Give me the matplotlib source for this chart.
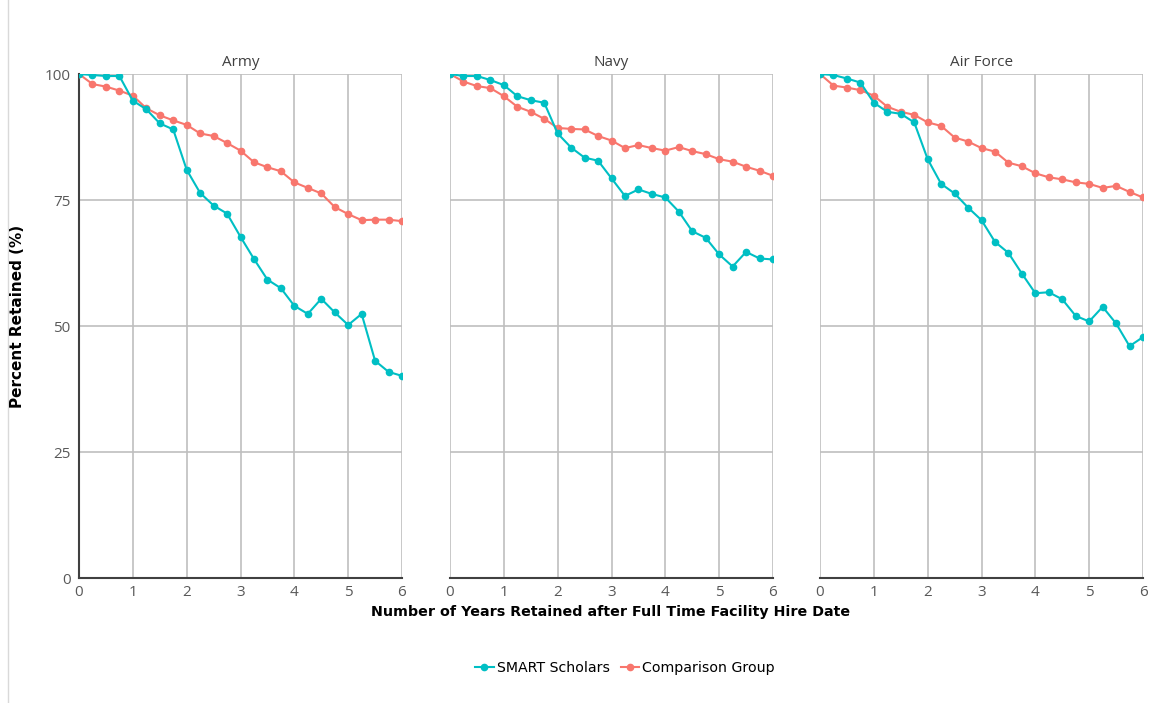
import matplotlib.pyplot as plt
from matplotlib.lines import Line2D

years = [i * 0.25 for i in range(25)]
panels = ["Army", "Navy", "Air Force"]

army_smart = [100, 99.8, 99.6, 99.6, 94.7, 93.0, 90.2, 89.0, 81.0, 76.4, 73.9, 72.3, 67.7,
              63.3, 59.2, 57.5, 54.0, 52.4, 55.4, 52.7, 50.2, 52.4, 43.1, 40.9, 40.1]
army_comp = [100, 98.0, 97.5, 96.7, 95.7, 93.2, 91.8, 90.8, 89.9, 88.2, 87.7, 86.3, 84.8,
             82.5, 81.5, 80.7, 78.5, 77.4, 76.3, 73.6, 72.2, 71.0, 71.1, 71.1, 70.8]
navy_smart = [100, 99.6, 99.6, 98.8, 97.8, 95.6, 94.8, 94.3, 88.2, 85.4, 83.4, 82.8, 79.3,
              75.8, 77.1, 76.2, 75.5, 72.7, 68.8, 67.5, 64.2, 61.8, 64.7, 63.4, 63.2]
navy_comp = [100, 98.5, 97.6, 97.2, 95.6, 93.5, 92.5, 91.1, 89.3, 89.1, 89.0, 87.7, 86.8,
             85.3, 85.9, 85.3, 84.8, 85.5, 84.7, 84.1, 83.1, 82.6, 81.6, 80.8, 79.8]
af_smart = [100, 99.8, 99.1, 98.3, 94.3, 92.5, 92.1, 90.4, 83.1, 78.2, 76.3, 73.5, 71.0,
            66.7, 64.5, 60.4, 56.5, 56.7, 55.3, 52.0, 50.9, 53.8, 50.5, 46.0, 47.8]
af_comp = [100, 97.7, 97.3, 96.8, 95.7, 93.5, 92.5, 91.9, 90.4, 89.7, 87.4, 86.6, 85.3,
           84.6, 82.4, 81.7, 80.3, 79.5, 79.1, 78.5, 78.2, 77.4, 77.8, 76.6, 75.5]

smart = [army_smart, navy_smart, af_smart]
comp = [army_comp, navy_comp, af_comp]

TEAL = "#00BFC4"
SALMON = "#F8766D"
GRID = "#BFBFBF"
TICK = "#595959"

plt.rcParams["font.family"] = ["Open Sans", "DejaVu Sans"]

fig = plt.figure(figsize=(11.51, 7.03), dpi=100)
lefts = [79, 450, 820]
for i, name in enumerate(panels):
    ax = fig.add_axes([lefts[i] / 1151, 1 - 578 / 703, 323 / 1151, 504 / 703])
    ax.plot(years, comp[i], color=SALMON, lw=1.5, marker="o", ms=4.5, zorder=3)
    ax.plot(years, smart[i], color=TEAL, lw=1.5, marker="o", ms=4.5, zorder=4)
    ax.set_xlim(0, 6)
    ax.set_ylim(0, 100)
    ax.set_xticks(range(7))
    ax.set_yticks([0, 25, 50, 75, 100])
    ax.grid(True, color=GRID, lw=1.2)
    ax.set_axisbelow(True)
    for s in ["top", "right", "left"]:
        ax.spines[s].set_visible(False)
    ax.spines["bottom"].set_color("#404040")
    ax.spines["bottom"].set_linewidth(1.5)
    if i == 0:
        ax.spines["left"].set_visible(True)
        ax.spines["left"].set_color("#404040")
        ax.spines["left"].set_linewidth(1.5)
        ax.tick_params(axis="y", labelsize=11, labelcolor=TICK, length=0, pad=6)
    else:
        ax.tick_params(axis="y", labelleft=False, length=0)
    ax.tick_params(axis="x", labelsize=11, labelcolor=TICK, length=0, pad=5)
    ax.set_title(name, fontsize=11, color="#404040", pad=6)

fig.text(18 / 1151, 1 - 316 / 703, "Percent Retained (%)", rotation=90, ha="center", va="center",
         fontsize=11, fontweight="bold", family=["Liberation Sans Narrow", "DejaVu Sans"])
fig.text(611 / 1151, 1 - 612 / 703, "Number of Years Retained after Full Time Facility Hire Date",
         ha="center", va="center", fontsize=10.3, fontweight="bold",
         family=["Liberation Sans Narrow", "DejaVu Sans"])

handles = [Line2D([], [], color=TEAL, lw=1.5, marker="o", ms=4.5),
           Line2D([], [], color=SALMON, lw=1.5, marker="o", ms=4.5)]
fig.legend(handles, ["SMART Scholars", "Comparison Group"], loc="center",
           bbox_to_anchor=(625 / 1151, 1 - 668 / 703), ncol=2, frameon=False,
           handlelength=1.3, handletextpad=0.2, columnspacing=0.8,
           prop={"family": ["Liberation Sans Narrow", "DejaVu Sans"], "size": 10.2})

fig.add_artist(Line2D([8 / 1151, 8 / 1151], [0, 1], color="#D9D9D9", lw=1))

fig.savefig("out.png", dpi=100)
